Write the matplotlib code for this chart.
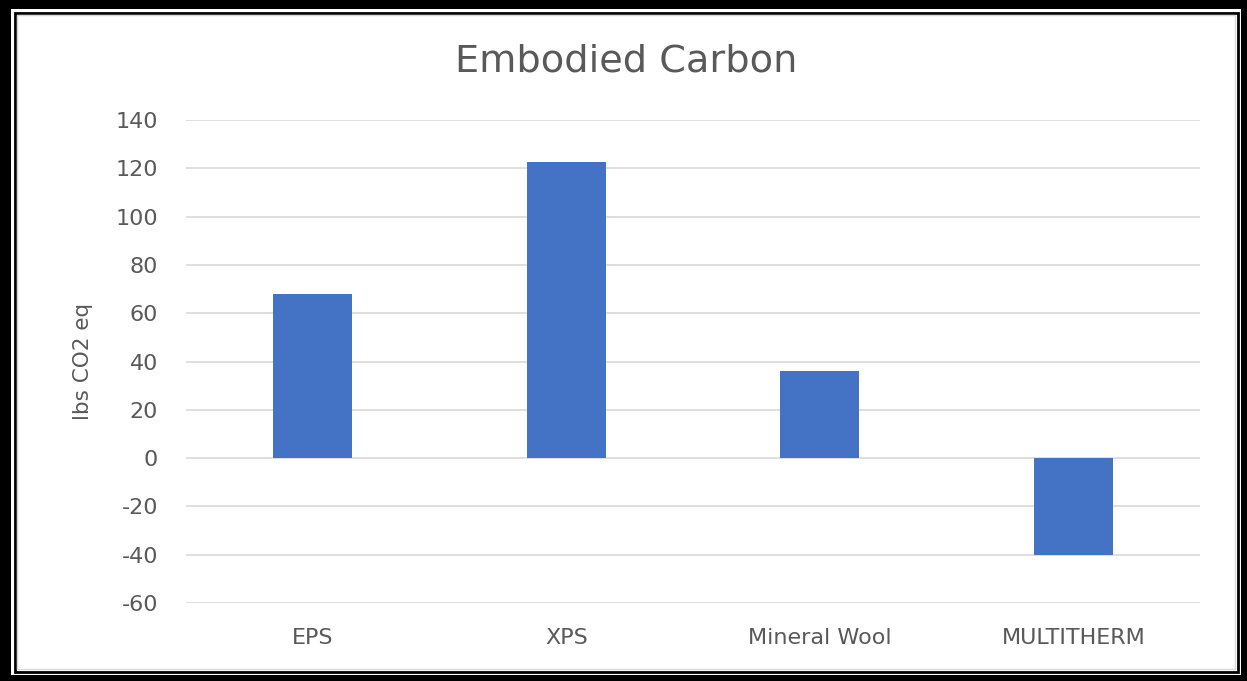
import matplotlib.pyplot as plt
from matplotlib.patches import Rectangle

categories = ["EPS", "XPS", "Mineral Wool", "MULTITHERM"]
values = [68, 122.5, 36, -40]
yticks = [-60, -40, -20, 0, 20, 40, 60, 80, 100, 120, 140]

W, H = 1247, 681
plt.rcParams['font.family'] = ['DejaVu Sans']
plt.rcParams['axes.unicode_minus'] = False
fig = plt.figure(figsize=(W / 100, H / 100), dpi=100)

# frame around the picture
def px_rect(l, t, r, b, **kw):
    return Rectangle((l / W, b / H), (W - l - r) / W, (H - t - b) / H,
                     transform=fig.transFigure, **kw)

fig.add_artist(px_rect(0, 0, 0, 0, facecolor="black", edgecolor="none", zorder=-10))
fig.add_artist(px_rect(11, 9, 6, 6, facecolor="white", edgecolor="none", zorder=-9))
fig.add_artist(px_rect(14.5, 12.5, 9.5, 9.5, facecolor="none", edgecolor="black", linewidth=2, zorder=-8))
fig.add_artist(px_rect(17, 15, 12, 12, facecolor="none", edgecolor="#d9d9d9", linewidth=1, zorder=-7))

ax = fig.add_axes([186 / W, 78 / H, (1200 - 186) / W, (603 - 120) / H])
ax.set_facecolor("none")
x = range(len(categories))
ax.bar(x, values, width=0.31, color="#4472C4", zorder=3)

ax.set_xlim(-0.5, len(categories) - 0.5)
ax.set_ylim(-60, 140)
ax.set_yticks(yticks)
ax.set_xticks(list(x))
ax.set_xticklabels(categories)
ax.grid(axis="y", color="#d9d9d9", linewidth=1.2, zorder=0)
ax.tick_params(axis="both", length=0, colors="#595959", labelsize=16)
ax.tick_params(axis="y", pad=20)
ax.tick_params(axis="x", pad=18)
for s in ax.spines.values():
    s.set_visible(False)

ax.set_ylabel("lbs CO2 eq", color="#595959", fontsize=15.5, labelpad=16)
fig.text(626 / W, 1 - 62 / H, "Embodied Carbon", ha="center", va="center",
         color="#595959", fontsize=27.5)

fig.savefig("out.png", dpi=100)
